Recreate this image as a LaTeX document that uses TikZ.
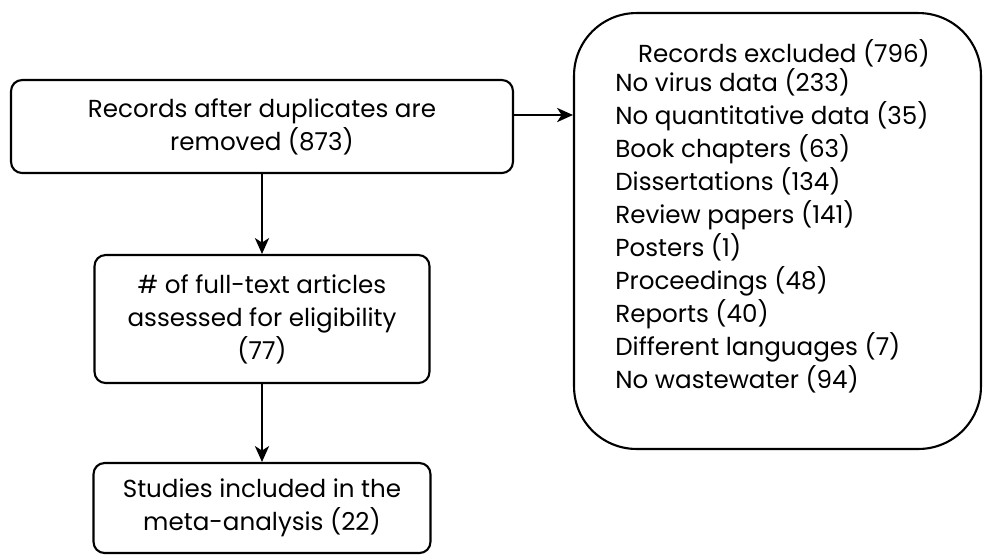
\documentclass[tikz,border=0pt]{standalone}
\usepackage{fontspec}
\setmainfont{Poppins}
\usetikzlibrary{positioning, arrows.meta}

\begin{document}
\begin{tikzpicture}[
    x=0.02cm, y=-0.02cm,
    font=\fontsize{14}{18.8}\selectfont,
    box/.style={rectangle, draw=black, line width=1.2pt, rounded corners=0.22cm, align=center, inner sep=0pt},
    bigbox/.style={rectangle, draw=black, line width=1.2pt, rounded corners=1.25cm, inner sep=0pt},
    arrow/.style={-{Stealth[length=9pt, width=8pt, inset=2.5pt]}, line width=1.5pt, black}
]
\useasboundingbox (0,0) rectangle (984,556);

% ==================== LEFT SIDE: FLOW ====================
\node[box, minimum width=10.04cm, minimum height=1.86cm] (dedup) at (262,126.5) {Records after duplicates are\\removed (873)};
\node[box, minimum width=6.7cm, minimum height=2.56cm] (fulltext) at (262,319) {\# of full-text articles\\assessed for eligibility\\(77)};
\node[box, minimum width=6.74cm, minimum height=1.8cm] (included) at (262,508) {Studies included in the\\meta-analysis (22)};

% ==================== RIGHT SIDE: EXCLUSIONS ====================
\node[bigbox, minimum width=8.14cm, minimum height=8.72cm] (excluded) at (777.5,231) {};
\node[anchor=north] (excltitle) at (784,33) {Records excluded (796)};
\node[anchor=north west, align=left, inner sep=0pt] (excllist) at (615,68) {No virus data (233)\\No quantitative data (35)\\Book chapters (63)\\Dissertations (134)\\Review papers (141)\\Posters (1)\\Proceedings (48)\\Reports (40)\\Different languages (7)\\No wastewater (94)};

% ==================== ARROWS ====================
\draw[arrow] (dedup.east |- 0,115) -- (excluded.west |- 0,115);
\draw[arrow] (fulltext.north |- dedup.south) -- (fulltext.north);
\draw[arrow] (fulltext.south) -- (included.north);

\end{tikzpicture}
\end{document}
